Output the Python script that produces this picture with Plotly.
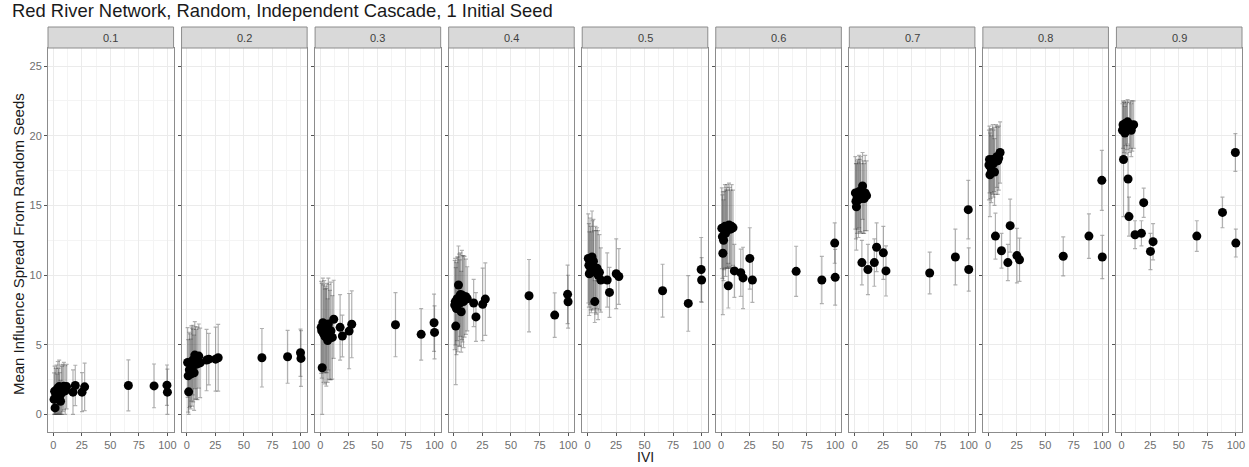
import plotly.graph_objects as go
from plotly.subplots import make_subplots

# IVI score of each node (same nodes in every panel)
ivi = [0.7, 1.2, 1.6, 2.2, 2.8, 3.4, 4.0, 4.6, 5.2, 5.6, 6.4, 7.0, 7.6, 8.4, 9.3,
       10.5, 11.7, 17.3, 19.3, 25.2, 27.5, 65.8, 88.3, 99.6, 100.0]

# propagation probabilities (one facet each)
probs = ["0.1", "0.2", "0.3", "0.4", "0.5", "0.6", "0.7", "0.8", "0.9"]

# mean influence spread per node
mean_01 = [1.08, 1.67, 0.47, 1.4, 1.75, 1.2, 1.9, 1.5, 2.0, 1.3, 0.95, 1.75, 1.55, 1.9, 2.03,
           1.7, 2.0, 1.6, 2.08, 1.6, 1.98, 2.08, 2.05, 2.1, 1.6]
mean_02 = [3.73, 2.77, 1.62, 3.2, 3.18, 2.9, 3.66, 3.4, 3.9, 3.5, 2.99, 4.26, 3.7, 3.6, 3.66,
           4.19, 3.7, 3.9, 3.97, 3.97, 4.07, 4.07, 4.14, 4.43, 4.02]
mean_03 = [6.25, 6.0, 3.35, 6.58, 5.8, 6.3, 5.6, 6.1, 5.53, 6.2, 5.3, 6.49, 5.94, 5.7, 6.0,
           5.53, 6.83, 6.25, 5.63, 5.98, 6.47, 6.44, 5.75, 6.58, 5.89]
mean_04 = [7.85, 8.1, 6.34, 7.6, 8.3, 7.9, 9.29, 8.2, 8.0, 8.6, 7.37, 8.57, 8.3, 8.1, 8.45,
           8.45, 8.3, 8.0, 7.0, 7.9, 8.28, 8.52, 7.13, 8.62, 8.09]
mean_05 = [11.2, 10.7, 10.1, 11.0, 10.5, 10.2, 11.3, 10.7, 11.0, 10.4, 8.1, 10.4, 10.2, 10.5, 10.0,
           10.2, 9.65, 9.65, 8.76, 10.1, 9.9, 8.88, 7.97, 10.4, 9.65]
mean_06 = [13.36, 12.76, 11.57, 12.5, 13.2, 13.5, 13.0, 13.4, 13.5, 13.3, 9.24, 13.6, 13.4, 13.3, 13.5,
           13.4, 10.3, 10.17, 9.8, 11.2, 9.65, 10.27, 9.65, 12.3, 9.84]
mean_07 = [15.9, 15.3, 14.9, 15.6, 15.8, 15.4, 16.0, 15.7, 15.8, 15.5, 10.9, 16.4, 15.6, 15.5, 15.9,
           15.7, 10.4, 10.9, 12.0, 11.6, 10.3, 10.15, 11.3, 14.7, 10.4]
mean_08 = [17.9, 18.3, 17.2, 18.0, 17.6, 18.2, 18.3, 18.0, 18.3, 17.4, 12.8, 18.3, 18.5, 18.2, 18.4,
           18.8, 11.75, 10.9, 13.55, 11.4, 11.1, 11.35, 12.8, 16.8, 11.3]
mean_09 = [20.4, 20.8, 18.3, 20.6, 20.2, 20.9, 20.5, 20.7, 21.0, 16.9, 14.2, 20.6, 20.8, 20.4, 20.7,
           20.8, 12.9, 13.0, 15.2, 11.7, 12.4, 12.8, 14.5, 18.8, 12.3]

# standard deviation of the spread per node
sd_01 = [1.9, 1.8, 1.5, 1.9, 1.8, 1.7, 1.9, 1.8, 1.9, 1.7, 1.5, 1.8, 1.9, 1.7, 1.7,
         1.8, 1.6, 1.6, 1.45, 1.4, 1.7, 1.83, 1.57, 1.45, 1.65]
sd_02 = [2.5, 2.6, 2.4, 2.7, 2.6, 2.5, 2.7, 2.8, 2.5, 2.6, 2.7, 2.4, 2.6, 2.5, 2.6,
         2.3, 2.5, 2.2, 1.85, 2.3, 2.4, 2.1, 1.9, 1.7, 2.0]
sd_03 = [3.3, 3.4, 3.35, 3.2, 3.5, 3.3, 3.4, 3.1, 3.5, 3.2, 3.0, 3.3, 3.4, 3.2, 3.5,
         3.0, 2.8, 2.35, 1.5, 2.7, 2.4, 2.3, 1.85, 2.05, 1.9]
sd_04 = [3.2, 3.1, 4.2, 3.3, 3.0, 3.4, 2.8, 3.3, 3.1, 3.0, 2.9, 3.2, 3.1, 3.3, 2.9,
         2.7, 2.3, 1.7, 1.75, 2.6, 2.6, 2.6, 1.6, 2.1, 1.9]
sd_05 = [3.2, 3.0, 3.0, 3.1, 3.0, 2.9, 3.3, 3.2, 3.0, 2.8, 1.5, 3.1, 3.0, 2.9, 3.2,
         2.7, 2.3, 1.95, 1.8, 2.5, 2.0, 1.9, 2.0, 2.3, 1.6]
sd_06 = [2.9, 3.0, 4.4, 2.9, 2.8, 3.0, 3.1, 2.9, 3.0, 2.8, 1.6, 3.0, 2.9, 2.8, 3.0,
         2.7, 1.9, 1.7, 2.2, 2.2, 1.6, 1.8, 1.7, 1.45, 2.0]
sd_07 = [2.6, 2.7, 3.1, 2.6, 2.5, 2.7, 2.6, 2.6, 2.7, 2.5, 1.6, 2.4, 2.6, 2.5, 2.7,
         2.5, 1.8, 1.7, 1.75, 1.9, 1.8, 1.5, 2.0, 2.1, 1.55]
sd_08 = [2.5, 2.4, 3.0, 2.5, 2.4, 2.3, 2.5, 2.4, 2.3, 2.4, 1.65, 2.5, 2.2, 2.4, 2.3,
         2.2, 1.25, 1.3, 1.9, 1.95, 1.55, 1.4, 1.6, 2.15, 1.55]
sd_09 = [1.9, 1.7, 4.1, 1.8, 1.9, 1.6, 1.8, 1.7, 1.6, 2.4, 1.4, 1.8, 1.7, 1.9, 1.8,
         1.7, 1.0, 0.9, 1.05, 1.3, 1.3, 1.1, 1.1, 1.35, 1.0]

x_ticks = [0, 25, 50, 75, 100]
y_ticks = [0, 5, 10, 15, 20, 25]

means = [mean_01, mean_02, mean_03, mean_04, mean_05, mean_06, mean_07, mean_08, mean_09]
sds = [sd_01, sd_02, sd_03, sd_04, sd_05, sd_06, sd_07, sd_08, sd_09]

FONT = "Liberation Sans, Arial, sans-serif"
BORDER = "#8c8c8c"
TICK_GREY = "#6e6e6e"
n = len(probs)

W, H = 1249, 467
ML, MR, MT, MB = 48, 4, 48, 35
GAP = 8
plot_w = W - ML - MR
plot_h = H - MT - MB

fig = make_subplots(rows=1, cols=n, shared_yaxes=True,
                    horizontal_spacing=GAP / plot_w)

for i, (m, s) in enumerate(zip(means, sds)):
    lower = [min(sv, mv) for mv, sv in zip(m, s)]
    fig.add_trace(go.Scatter(
        x=ivi, y=m, mode="markers",
        marker=dict(color="black", size=9),
        error_y=dict(type="data", symmetric=False, array=s, arrayminus=lower,
                     color="rgba(60,60,60,0.4)", thickness=1.2, width=2),
        showlegend=False, hoverinfo="x+y",
    ), row=1, col=i + 1)

grid_major = "#ebebeb"
grid_minor = "#f4f4f4"
fig.update_xaxes(range=[-4.6, 105.4], tickvals=x_ticks, ticks="outside", ticklen=3,
                 tickcolor="#555555", tickfont=dict(family=FONT, size=11, color=TICK_GREY),
                 showgrid=True, gridcolor=grid_major, gridwidth=1,
                 minor=dict(tickvals=[12.5, 37.5, 62.5, 87.5], showgrid=True,
                            gridcolor=grid_minor, gridwidth=0.6, ticks=""),
                 showline=True, linecolor=BORDER, linewidth=1, mirror=True,
                 zeroline=False)
fig.update_yaxes(range=[-1.26, 26.3], tickvals=y_ticks, ticks="outside", ticklen=3,
                 tickcolor="#555555", tickfont=dict(family=FONT, size=11, color=TICK_GREY),
                 showgrid=True, gridcolor=grid_major, gridwidth=1,
                 minor=dict(tickvals=[2.5, 7.5, 12.5, 17.5, 22.5], showgrid=True,
                            gridcolor=grid_minor, gridwidth=0.6, ticks=""),
                 showline=True, linecolor=BORDER, linewidth=1, mirror=True,
                 zeroline=False)

# facet strips
strip_h = 21 / plot_h
shapes = []
annotations = []
for i, p in enumerate(probs):
    xa = fig.layout["xaxis" if i == 0 else f"xaxis{i + 1}"]
    x0, x1 = xa.domain
    shapes.append(dict(type="rect", xref="paper", yref="paper",
                       x0=x0, x1=x1, y0=1.0, y1=1.0 + strip_h,
                       fillcolor="#d9d9d9", line=dict(color=BORDER, width=1)))
    annotations.append(dict(text=p, xref="paper", yref="paper",
                            x=(x0 + x1) / 2, y=1.0 + strip_h / 2,
                            showarrow=False, xanchor="center", yanchor="middle",
                            font=dict(family=FONT, size=11, color="#404040")))

# axis titles
annotations.append(dict(text="IVI", xref="paper", yref="paper", x=0.5,
                        y=-(457 - (MT + plot_h)) / plot_h, showarrow=False,
                        xanchor="center", yanchor="middle",
                        font=dict(family=FONT, size=14, color="#1a1a1a")))
annotations.append(dict(text="Mean Influence Spread From Random Seeds", xref="paper",
                        yref="paper", x=-(ML - 18) / plot_w, y=1 - (244 - MT) / plot_h,
                        textangle=-90, showarrow=False, xanchor="center", yanchor="middle",
                        font=dict(family=FONT, size=15, color="#1a1a1a")))

fig.update_layout(
    width=W, height=H,
    margin=dict(l=ML, r=MR, t=MT, b=MB),
    paper_bgcolor="white", plot_bgcolor="white",
    title=dict(text="Red River Network, Random, Independent Cascade, 1 Initial Seed",
               x=12 / W, xanchor="left", y=1 - 11 / H, yanchor="middle",
               font=dict(family=FONT, size=18.4, color="#1a1a1a")),
    shapes=shapes, annotations=annotations,
)

fig.write_html("out.html")
